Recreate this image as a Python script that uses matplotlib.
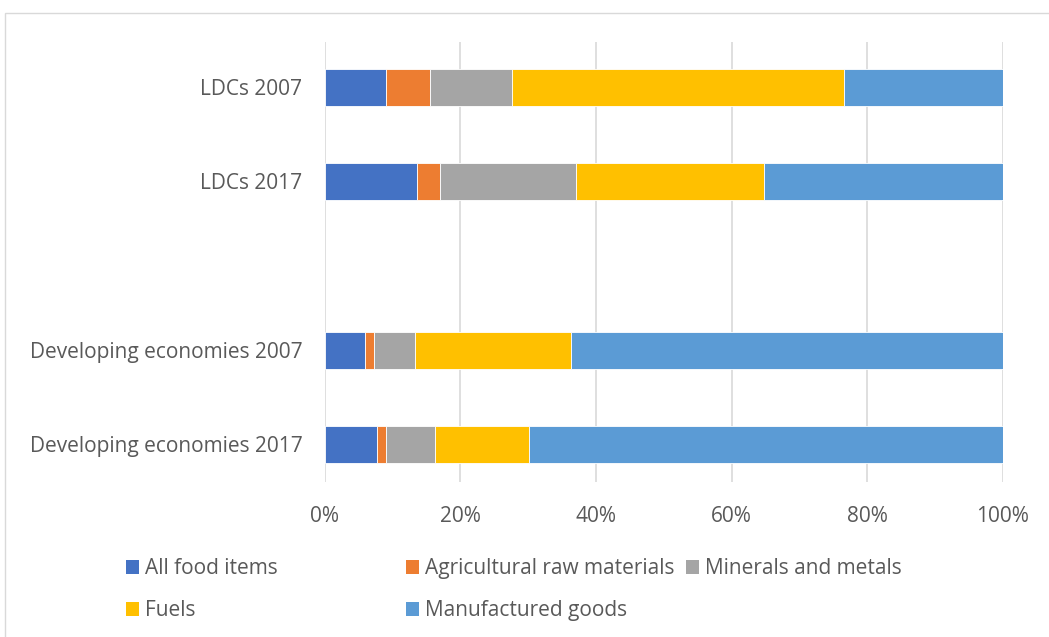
import matplotlib.pyplot as plt
from matplotlib.patches import Patch, Rectangle
from matplotlib.ticker import PercentFormatter

categories = ["LDCs 2007", "LDCs 2017", "Developing economies 2007", "Developing economies 2017"]
series_names = ["All food items", "Agricultural raw materials", "Minerals and metals",
                "Fuels", "Manufactured goods"]
food = [9.1, 13.7, 6.0, 7.8]
agri = [6.5, 3.3, 1.3, 1.3]
minerals = [12.1, 20.0, 6.1, 7.2]
fuels = [48.9, 27.8, 23.0, 13.9]
manufactured = [23.4, 35.2, 63.6, 69.8]
ticks = [0, 20, 40, 60, 80, 100]

colors = ["#4472C4", "#ED7D31", "#A5A5A5", "#FFC000", "#5B9BD5"]
ypos = [0, 1, 2.8, 3.8]
text_color = "#595959"

plt.rcParams["font.family"] = ["Open Sans", "DejaVu Sans"]

fig = plt.figure(figsize=(10.49, 6.37), dpi=100)
W, H = 1049, 637
ax = fig.add_axes([324.5 / W, 1 - 482 / H, (1003 - 324.5) / W, (482 - 42) / H])

left = [0.0] * len(categories)
for vals, col in zip([food, agri, minerals, fuels, manufactured], colors):
    ax.barh(ypos, vals, left=left, height=0.39, color=col, edgecolor="white", linewidth=0.6, zorder=3)
    left = [a + b for a, b in zip(left, vals)]

ax.set_xlim(0, 100)
ax.set_ylim(4.2, -0.484)
ax.set_xticks(ticks)
ax.xaxis.set_major_formatter(PercentFormatter(decimals=0))
ax.set_yticks(ypos)
ax.set_yticklabels(categories)
ax.tick_params(axis="both", length=0, labelsize=15, colors=text_color)
ax.tick_params(axis="x", pad=17)
ax.tick_params(axis="y", pad=16)
ax.grid(axis="x", color="#D9D9D9", linewidth=1.2, zorder=0)
for s in ax.spines.values():
    s.set_visible(False)

# outer chart border
fig.patches.append(Rectangle((5 / W, -0.1), 1.2, (637 - 13) / H + 0.1, transform=fig.transFigure,
                             fill=False, edgecolor="#D9D9D9", linewidth=1))

# legend laid out in equal-width columns like the original
cols_x = [116, 396, 676]
layout = [[0, 3], [1, 4], [2]]
for cx, idxs in zip(cols_x, layout):
    handles = [Patch(facecolor=colors[i], edgecolor="none") for i in idxs]
    labels = [series_names[i] for i in idxs]
    fig.legend(handles, labels, loc="upper left", bbox_to_anchor=(cx / W, 1 - 548 / H),
               frameon=False, fontsize=15, labelcolor=text_color, handlelength=0.6,
               handleheight=0.6, handletextpad=0.3, labelspacing=1.0, borderpad=0)

fig.savefig("out.png", dpi=100)
